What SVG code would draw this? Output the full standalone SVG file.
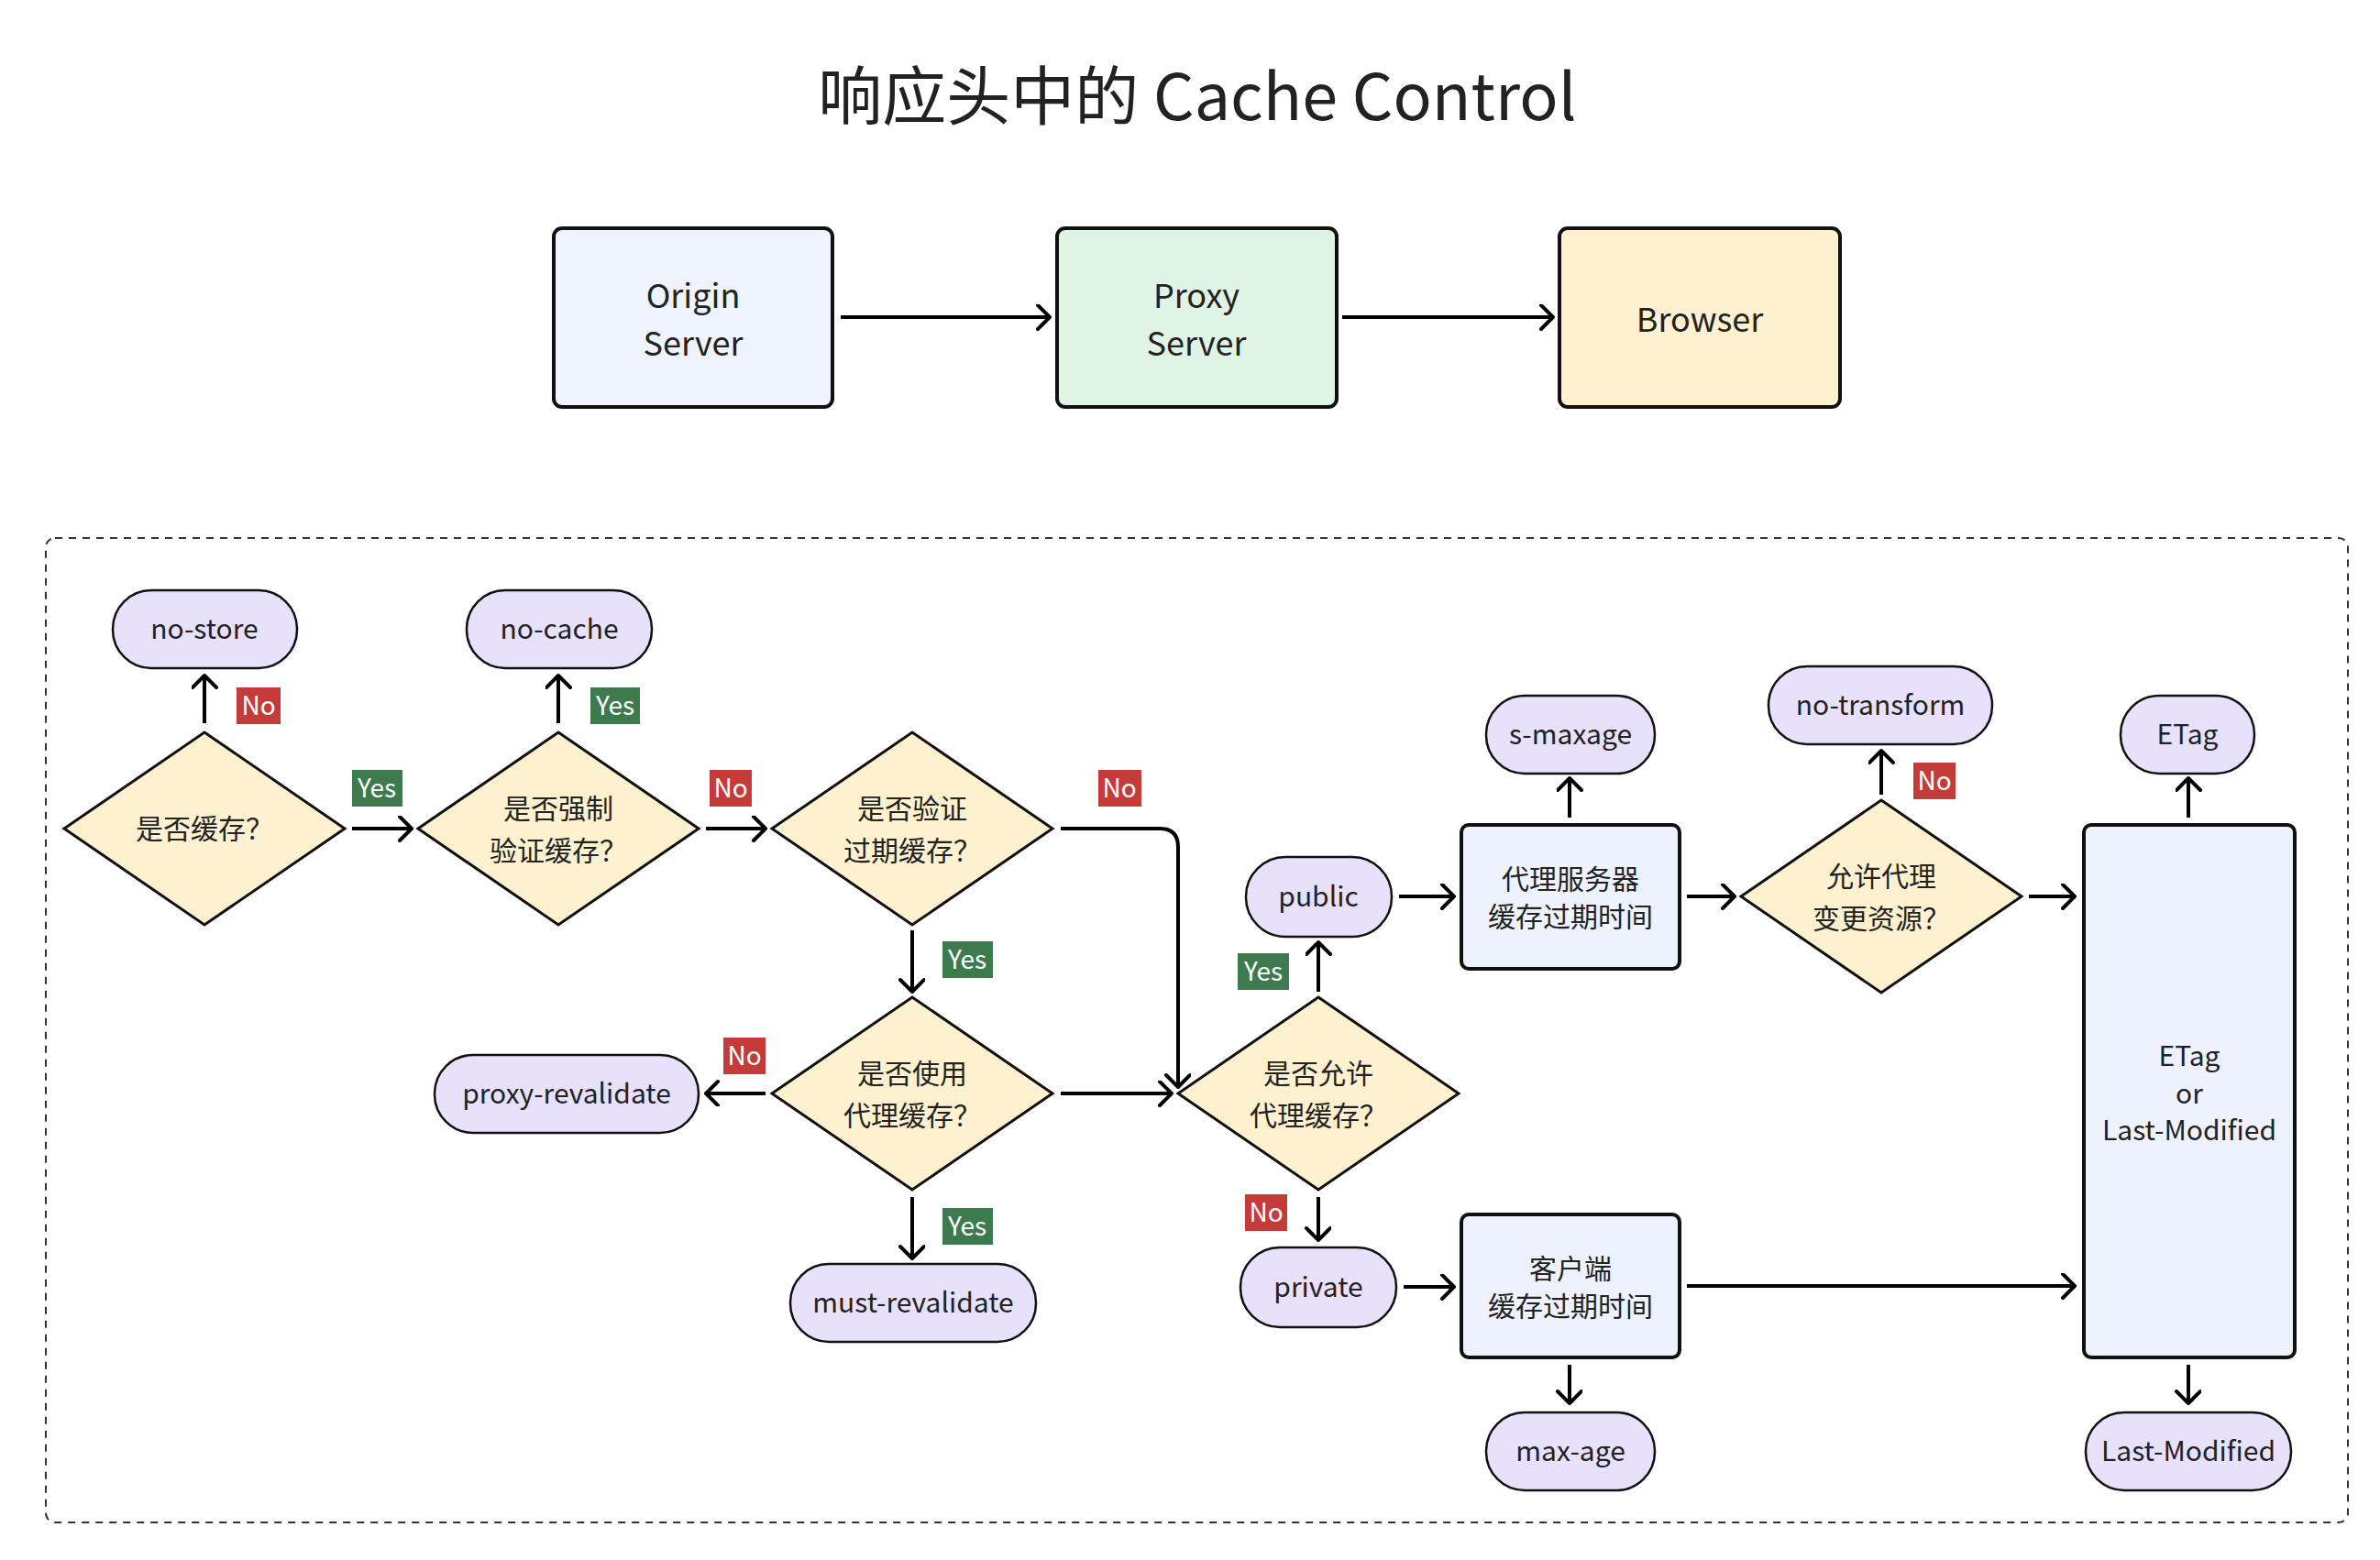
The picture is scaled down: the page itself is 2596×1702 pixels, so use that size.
<svg xmlns="http://www.w3.org/2000/svg" width="2596" height="1702" viewBox="0 0 2596 1702">
<defs>
<marker id="ah" markerUnits="userSpaceOnUse" markerWidth="30" markerHeight="30" refX="16" refY="14" orient="auto"><path d="M3,1 L16,14 L3,27" fill="none" stroke="#000" stroke-width="4" stroke-linecap="round" stroke-linejoin="round"/></marker>
</defs>
<style>
text{font-family:"Noto Sans CJK SC","Noto Sans",sans-serif;fill:#222;text-anchor:middle}
.box{stroke:#111;stroke-width:4}
.pill{fill:#E8E1FB;stroke:#111;stroke-width:2.5}
.dia{fill:#FDF1CF;stroke:#111;stroke-width:3}
.rect{fill:#EEF2FC;stroke:#111;stroke-width:4}
.t{font-size:30px}
.lt{font-size:36px}
.c line,.c path{stroke:#000;stroke-width:4;fill:none;marker-end:url(#ah)}
.no{fill:#C53B3A}.yes{fill:#3D7A4E}
.lb{font-size:28px;fill:#fff}
</style>
<rect width="2596" height="1702" fill="#fff"/>
<text x="1306" y="131" style="font-size:70px">响应头中的 Cache Control</text>
<g id="origin"><rect class="box" x="604" y="249" width="304" height="195" rx="9" fill="#EEF3FD"/><text class="lt" x="756" y="336">Origin</text><text class="lt" x="756" y="388">Server</text></g>
<g id="proxy"><rect class="box" x="1153" y="249" width="305" height="195" rx="9" fill="#DFF4E5"/><text class="lt" x="1305" y="336">Proxy</text><text class="lt" x="1305" y="388">Server</text></g>
<g id="browser"><rect class="box" x="1701" y="249" width="306" height="195" rx="9" fill="#FDF1CF"/><text class="lt" x="1854" y="362">Browser</text></g>
<rect x="50" y="587" width="2511" height="1074" rx="10" fill="none" stroke="#333" stroke-width="2" stroke-dasharray="8 7"/>

<g id="d1"><polygon class="dia" points="223,799 376,904 223,1009 70,904"/><text class="t" x="223" y="915">是否缓存？</text></g>
<g id="d2"><polygon class="dia" points="609,799 762,904 609,1009 456,904"/><text class="t" x="609" y="893">是否强制</text><text class="t" x="609" y="939">验证缓存？</text></g>
<g id="d3"><polygon class="dia" points="995,799 1148,904 995,1009 842,904"/><text class="t" x="995" y="893">是否验证</text><text class="t" x="995" y="939">过期缓存？</text></g>
<g id="d4"><polygon class="dia" points="995,1088 1148,1193 995,1298 842,1193"/><text class="t" x="995" y="1182">是否使用</text><text class="t" x="995" y="1228">代理缓存？</text></g>
<g id="d5"><polygon class="dia" points="1438,1088 1591,1193 1438,1298 1285,1193"/><text class="t" x="1438" y="1182">是否允许</text><text class="t" x="1438" y="1228">代理缓存？</text></g>
<g id="d6"><polygon class="dia" points="2052,873 2205,978 2052,1083 1899,978"/><text class="t" x="2052" y="967">允许代理</text><text class="t" x="2052" y="1013">变更资源？</text></g>

<g id="nostore"><rect class="pill" x="123" y="644" width="201" height="85" rx="42"/><text class="t" x="223" y="697">no-store</text></g>
<g id="nocache"><rect class="pill" x="509" y="644" width="202" height="85" rx="42"/><text class="t" x="610" y="697">no-cache</text></g>
<g id="proxyreval"><rect class="pill" x="474" y="1151" width="288" height="85" rx="42"/><text class="t" x="618" y="1204">proxy-revalidate</text></g>
<g id="mustreval"><rect class="pill" x="862" y="1379" width="268" height="85" rx="42"/><text class="t" x="996" y="1432">must-revalidate</text></g>
<g id="public"><rect class="pill" x="1359" y="935" width="159" height="87" rx="43"/><text class="t" x="1438" y="989">public</text></g>
<g id="private"><rect class="pill" x="1353" y="1361" width="170" height="87" rx="43"/><text class="t" x="1438" y="1415">private</text></g>
<g id="smaxage"><rect class="pill" x="1621" y="759" width="184" height="85" rx="42"/><text class="t" x="1713" y="812">s-maxage</text></g>
<g id="notransform"><rect class="pill" x="1929" y="727" width="244" height="85" rx="42"/><text class="t" x="2051" y="780">no-transform</text></g>
<g id="maxage"><rect class="pill" x="1621" y="1541" width="184" height="85" rx="42"/><text class="t" x="1713" y="1594">max-age</text></g>
<g id="etag"><rect class="pill" x="2313" y="759" width="146" height="85" rx="42"/><text class="t" x="2386" y="812">ETag</text></g>
<g id="lastmod"><rect class="pill" x="2275" y="1541" width="224" height="85" rx="42"/><text class="t" x="2387" y="1594">Last-Modified</text></g>

<g id="proxyexp"><rect class="rect" x="1594" y="900" width="238" height="157" rx="8"/><text class="t" x="1713" y="970">代理服务器</text><text class="t" x="1713" y="1011">缓存过期时间</text></g>
<g id="clientexp"><rect class="rect" x="1594" y="1325" width="238" height="156" rx="8"/><text class="t" x="1713" y="1395">客户端</text><text class="t" x="1713" y="1436">缓存过期时间</text></g>
<g id="validator"><rect class="rect" x="2273" y="900" width="230" height="581" rx="8"/><text class="t" x="2388" y="1163">ETag</text><text class="t" x="2388" y="1204">or</text><text class="t" x="2388" y="1244">Last-Modified</text></g>

<g id="connectors" class="c">
<line x1="917" y1="346" x2="1145" y2="346"/>
<line x1="1464" y1="346" x2="1694" y2="346"/>
<line x1="223" y1="789" x2="223" y2="737"/>
<line x1="609" y1="789" x2="609" y2="737"/>
<line x1="384" y1="904" x2="449" y2="904"/>
<line x1="770" y1="904" x2="835" y2="904"/>
<path d="M1157,904 L1265,904 Q1285,904 1285,924 L1285,1186"/>
<line x1="995" y1="1015" x2="995" y2="1082"/>
<line x1="835" y1="1193" x2="770" y2="1193"/>
<line x1="1157" y1="1193" x2="1278" y2="1193"/>
<line x1="995" y1="1306" x2="995" y2="1373"/>
<line x1="1438" y1="1082" x2="1438" y2="1028"/>
<line x1="1438" y1="1306" x2="1438" y2="1353"/>
<line x1="1526" y1="978" x2="1586" y2="978"/>
<line x1="1531" y1="1404" x2="1586" y2="1404"/>
<line x1="1712" y1="892" x2="1712" y2="849"/>
<line x1="1840" y1="978" x2="1892" y2="978"/>
<line x1="2052" y1="867" x2="2052" y2="819"/>
<line x1="2213" y1="978" x2="2263" y2="978"/>
<line x1="1840" y1="1403" x2="2263" y2="1403"/>
<line x1="1712" y1="1489" x2="1712" y2="1531"/>
<line x1="2387" y1="892" x2="2387" y2="849"/>
<line x1="2387" y1="1489" x2="2387" y2="1531"/>
</g>
<g id="labels">
<rect class="no" x="258" y="750" width="48" height="40"/><text class="lb" x="282" y="780">No</text>
<rect class="yes" x="644" y="750" width="54" height="40"/><text class="lb" x="671" y="780">Yes</text>
<rect class="yes" x="384" y="840" width="55" height="40"/><text class="lb" x="411" y="870">Yes</text>
<rect class="no" x="774" y="840" width="46" height="40"/><text class="lb" x="797" y="870">No</text>
<rect class="no" x="1198" y="840" width="47" height="40"/><text class="lb" x="1221" y="870">No</text>
<rect class="yes" x="1028" y="1027" width="55" height="40"/><text class="lb" x="1055" y="1057">Yes</text>
<rect class="no" x="789" y="1132" width="46" height="40"/><text class="lb" x="812" y="1162">No</text>
<rect class="yes" x="1028" y="1318" width="55" height="40"/><text class="lb" x="1055" y="1348">Yes</text>
<rect class="yes" x="1350" y="1040" width="56" height="40"/><text class="lb" x="1378" y="1070">Yes</text>
<rect class="no" x="1358" y="1303" width="46" height="40"/><text class="lb" x="1381" y="1333">No</text>
<rect class="no" x="2087" y="832" width="46" height="40"/><text class="lb" x="2110" y="862">No</text>
</g>
</svg>
